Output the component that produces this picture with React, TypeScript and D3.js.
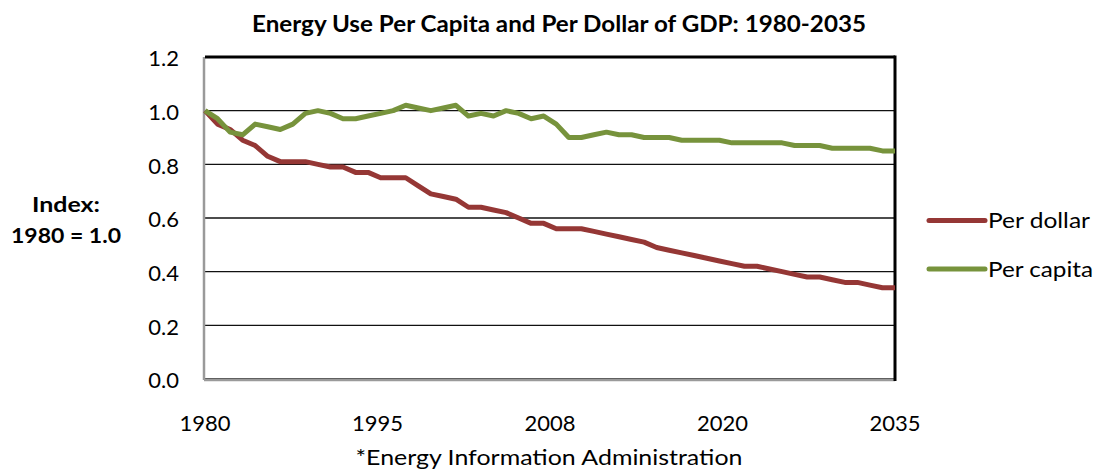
import React from "react";
import * as d3 from "d3";

// Index values, 1980 = 1.0 (annual, 1980-2035)
const years = d3.range(1980, 2036);

const perDollar = [
  1.0, 0.95, 0.93, 0.89, 0.87, 0.83, 0.81, 0.81, 0.81, 0.8,
  0.79, 0.79, 0.77, 0.77, 0.75, 0.75, 0.75, 0.72, 0.69, 0.68,
  0.67, 0.64, 0.64, 0.63, 0.62, 0.6, 0.58, 0.58, 0.56, 0.56,
  0.56, 0.55, 0.54, 0.53, 0.52, 0.51, 0.49, 0.48, 0.47, 0.46,
  0.45, 0.44, 0.43, 0.42, 0.42, 0.41, 0.4, 0.39, 0.38, 0.38,
  0.37, 0.36, 0.36, 0.35, 0.34, 0.34,
];

const perCapita = [
  1.0, 0.97, 0.92, 0.91, 0.95, 0.94, 0.93, 0.95, 0.99, 1.0,
  0.99, 0.97, 0.97, 0.98, 0.99, 1.0, 1.02, 1.01, 1.0, 1.01,
  1.02, 0.98, 0.99, 0.98, 1.0, 0.99, 0.97, 0.98, 0.95, 0.9,
  0.9, 0.91, 0.92, 0.91, 0.91, 0.9, 0.9, 0.9, 0.89, 0.89,
  0.89, 0.89, 0.88, 0.88, 0.88, 0.88, 0.88, 0.87, 0.87, 0.87,
  0.86, 0.86, 0.86, 0.86, 0.85, 0.85,
];

const xTickLabels = ["1980", "1995", "2008", "2020", "2035"];
const yTicks = [0, 0.2, 0.4, 0.6, 0.8, 1.0, 1.2];

const series = [
  { name: "Per dollar", values: perDollar, color: "#953735" },
  { name: "Per capita", values: perCapita, color: "#77933C" },
];

const width = 1099;
const height = 473;
const margin = { top: 57, right: 204, bottom: 94, left: 205 };
const font = "Lato, 'Open Sans', sans-serif";
// the source chart's text is a bit wider than Lato, stretch to fit
const legendTextWidth: Record<string, number> = { "Per dollar": 102, "Per capita": 105 };

const App: React.FC = () => {
  const innerW = width - margin.left - margin.right;
  const innerH = height - margin.top - margin.bottom;

  const x = d3.scalePoint<number>().domain(years).range([0, innerW]);
  const xLabel = d3.scalePoint<string>().domain(xTickLabels).range([0, innerW]);
  const y = d3.scaleLinear().domain([0, 1.2]).range([innerH, 0]);

  const line = d3
    .line<number>()
    .x((_, i) => x(years[i]) ?? 0)
    .y((d) => y(d));

  return (
    <svg
      width={width}
      height={height}
      style={{ position: "absolute", left: 0, top: 0, display: "block" }}
    >
      <rect width={width} height={height} fill="#fff" />
      <text
        x={559}
        y={32}
        textAnchor="middle"
        fontFamily={font}
        fontWeight="bold"
        fontSize={22}
        textLength={614}
        lengthAdjust="spacingAndGlyphs"
      >
        Energy Use Per Capita and Per Dollar of GDP: 1980-2035
      </text>

      <g transform={`translate(${margin.left},${margin.top})`}>
        {/* gridlines */}
        {yTicks.map((t) => (
          <line key={t} x1={0} x2={innerW} y1={y(t)} y2={y(t)} stroke="#111" strokeWidth={1.4} />
        ))}
        {/* frame */}
        <line x1={-1} x2={-1} y1={0} y2={innerH + 1} stroke="#9a9a9a" strokeWidth={2.5} />
        <line x1={-1} x2={innerW} y1={innerH + 1} y2={innerH + 1} stroke="#9a9a9a" strokeWidth={2.5} />
        <line x1={0} x2={innerW} y1={0} y2={0} stroke="#000" strokeWidth={3} />
        <line x1={innerW} x2={innerW} y1={-1.5} y2={innerH + 2} stroke="#000" strokeWidth={3} />

        {series.map((s) => (
          <path
            key={s.name}
            d={line(s.values) ?? ""}
            fill="none"
            stroke={s.color}
            strokeWidth={5}
            strokeLinejoin="round"
          />
        ))}

        {/* y axis labels */}
        {yTicks.map((t) => (
          <text
            key={t}
            x={-26}
            y={y(t) + 1.5}
            dy="0.35em"
            textAnchor="end"
            fontFamily={font}
            fontSize={22}
          >
            {t.toFixed(1)}
          </text>
        ))}

        {/* x axis labels */}
        {xTickLabels.map((l) => (
          <text
            key={l}
            x={xLabel(l) ?? 0}
            y={innerH + 52}
            textAnchor="middle"
            fontFamily={font}
            fontSize={22}
          >
            {l}
          </text>
        ))}
      </g>

      <text
        x={66}
        y={212}
        textAnchor="middle"
        fontFamily={font}
        fontWeight="bold"
        fontSize={21}
        textLength={68}
        lengthAdjust="spacingAndGlyphs"
      >
        Index:
      </text>
      <text
        x={66}
        y={243}
        textAnchor="middle"
        fontFamily={font}
        fontWeight="bold"
        fontSize={21}
        textLength={110}
        lengthAdjust="spacingAndGlyphs"
      >
        1980 = 1.0
      </text>

      {/* legend */}
      {series.map((s, i) => (
        <g key={s.name} transform={`translate(929,${220.5 + i * 48.5})`}>
          <line x1={0} x2={56} y1={0} y2={0} stroke={s.color} strokeWidth={5} strokeLinecap="round" />
          <text
            x={59}
            y={7.5}
            fontFamily={font}
            fontSize={21}
            textLength={legendTextWidth[s.name]}
            lengthAdjust="spacingAndGlyphs"
          >
            {s.name}
          </text>
        </g>
      ))}

      <text
        x={549}
        y={465}
        textAnchor="middle"
        fontFamily={font}
        fontSize={22}
        textLength={387}
        lengthAdjust="spacingAndGlyphs"
      >
        *Energy Information Administration
      </text>
    </svg>
  );
};

export default App;
